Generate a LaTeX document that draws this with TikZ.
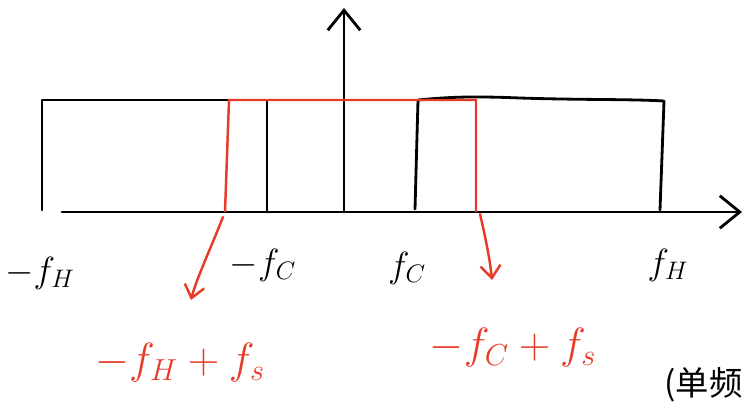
\documentclass[tikz,border=0pt]{standalone}
\usepackage{fontspec}
\newfontfamily\cjkfont{Noto Sans CJK SC}
\usepackage{tikz}
\usetikzlibrary{arrows.meta}
\definecolor{sketchred}{RGB}{232,58,40}
\tikzset{
axis_line/.style={line width=1.6pt, line cap=round, -{Straight Barb[length=4mm, width=6.5mm, line width=1.6pt]}},
band_line/.style={line width=1.6pt, line join=round, line cap=round},
shift_band/.style={line width=1.4pt, color=sketchred},
shift_arrow/.style={line width=1.4pt, color=sketchred, line cap=round, -{Straight Barb[length=2.5mm, width=4mm, line width=1.4pt]}},
freq_label/.style={font=\fontsize{22}{26}\selectfont, text=black},
shift_label/.style={font=\fontsize{24}{28}\selectfont, text=sketchred},
note_label/.style={font=\cjkfont\fontsize{19}{23}\selectfont, anchor=west, inner sep=0pt}
}

\begin{document}
\begin{tikzpicture}[x=0.02cm, y=-0.02cm]
    \useasboundingbox (0,0) rectangle (746,419);
    % axes
    \coordinate (origin) at (344,212);
    \coordinate (x_start) at (62,212);
    \coordinate (x_end) at (742,212);
    \coordinate (y_end) at (344,8);
    \draw[axis_line] (x_start) -- (x_end);
    \draw[axis_line] (origin) -- (y_end);
    % negative band
    \coordinate (neg_h_bot) at (42,210);
    \coordinate (neg_h_top) at (42,100);
    \coordinate (neg_c_top) at (267,100);
    \coordinate (neg_c_bot) at (267,212);
    \draw[band_line] (neg_h_bot) -- (neg_h_top) -- (neg_c_top) -- (neg_c_bot);
    % positive band
    \coordinate (pos_c_bot) at (415,209);
    \coordinate (pos_c_top) at (418,100);
    \coordinate (pos_h_top) at (664,101);
    \coordinate (pos_h_bot) at (660,210);
    \draw[band_line] (pos_c_bot) -- (pos_c_top) .. controls (450,97) and (470,96) .. (520,98)
        .. controls (580,100) and (630,99) .. (pos_h_top) -- (pos_h_bot);
    % shifted band
    \coordinate (sh_left_bot) at (225,212);
    \coordinate (sh_left_top) at (229,100);
    \coordinate (sh_right_top) at (476,100);
    \coordinate (sh_right_bot) at (476,212);
    \draw[shift_band] (sh_left_bot) -- (sh_left_top) -- (sh_right_top) -- (sh_right_bot);
    \coordinate (arr_left_start) at (223,217);
    \coordinate (arr_left_end) at (191,300);
    \coordinate (arr_right_start) at (480,214);
    \coordinate (arr_right_end) at (492,280);
    \draw[shift_arrow] (arr_left_start) .. controls (210,250) and (196,280) .. (arr_left_end);
    \draw[shift_arrow] (arr_right_start) .. controls (486,240) and (490,260) .. (arr_right_end);
    % labels
    \node[freq_label] (lbl_neg_fh) at (40,273) {$-f_H$};
    \node[freq_label] (lbl_neg_fc) at (263,265) {$-f_C$};
    \node[freq_label] (lbl_pos_fc) at (407,268) {$f_C$};
    \node[freq_label] (lbl_pos_fh) at (668,265) {$f_H$};
    \node[shift_label] (lbl_shift_h) at (180,363) {$-f_H+f_s$};
    \node[shift_label] (lbl_shift_c) at (513,348) {$-f_C+f_s$};
    \node[note_label] (lbl_note) at (664,385) {(单频};
\end{tikzpicture}
\end{document}
